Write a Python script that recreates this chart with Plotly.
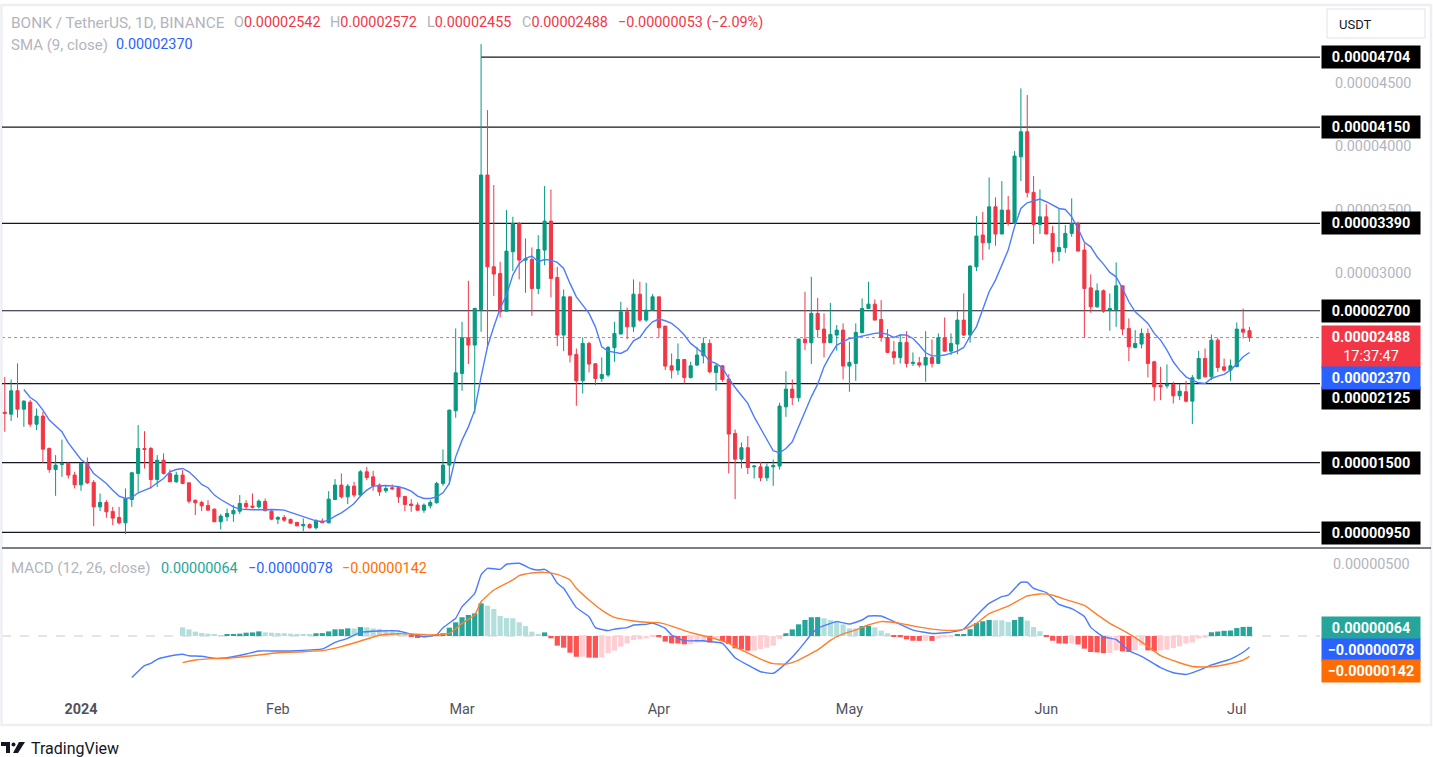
import pandas as pd
import plotly.graph_objects as go

# =========================
# Data (prices and MACD in units of 0.000001 USDT)
# =========================
START_DAY = "2023-12-20"

opens = [
    18.99, 18.83, 20.68, 19.23, 19.78, 18.04, 18.68, 16.12, 14.46, 14.86,
    14.94, 14.02, 13.25, 14.94, 13.44, 11.51, 11.86, 11.15, 10.67, 10.25,
    12.09, 14.15, 16.12, 16.12, 13.67, 15.20, 14.15, 13.49, 14.02, 13.41,
    12.04, 11.86, 11.62, 11.33, 10.33, 10.73, 10.96, 11.17, 11.78, 11.57,
    11.51, 11.94, 11.17, 10.54, 10.67, 10.51, 10.28, 10.01, 10.12, 9.86,
    10.38, 10.25, 12.09, 13.23, 12.30, 13.15, 12.44, 14.28, 13.88, 13.23,
    12.78, 13.02, 13.04, 12.33, 11.73, 11.65, 11.25, 11.59, 11.83, 13.36,
    14.81, 19.10, 22.05, 24.87, 24.29, 27.10, 37.72, 30.47, 29.95, 26.97,
    31.66, 33.90, 31.00, 31.05, 28.76, 31.79, 34.08, 29.63, 25.08, 28.10,
    23.55, 21.47, 24.42, 22.81, 21.65, 21.92, 24.08, 25.16, 26.92, 25.73,
    28.31, 26.26, 27.05, 28.10, 25.79, 22.65, 22.31, 23.15, 21.73, 22.71,
    23.44, 24.42, 22.13, 22.65, 21.60, 17.31, 15.28, 16.18, 14.67, 14.67,
    13.81, 14.67, 14.73, 19.41, 20.81, 20.13, 24.76, 24.47, 26.79, 25.55,
    24.47, 25.08, 25.47, 22.63, 22.84, 25.26, 27.18, 27.52, 26.31, 24.89,
    23.76, 23.31, 24.50, 22.84, 22.89, 22.71, 23.31, 22.84, 24.87, 23.81,
    24.37, 26.26, 25.08, 30.47, 32.98, 32.37, 35.21, 33.06, 34.95, 33.90,
    39.16, 41.14, 36.35, 33.82, 34.42, 33.11, 31.66, 31.98, 33.11, 33.90,
    31.79, 28.81, 27.31, 28.58, 27.05, 27.10, 28.97, 25.60, 24.10, 24.37,
    25.21, 22.97, 21.10, 21.07, 21.18, 20.28, 20.60, 19.86, 21.63, 23.23,
    21.78, 24.68, 22.57, 22.31, 22.60, 25.55, 25.42,
]
highs = [
    21.78, 21.57, 22.84, 19.94, 19.94, 19.28, 19.02, 16.20, 15.60, 16.83,
    15.07, 14.28, 14.99, 15.41, 13.62, 12.57, 12.04, 11.51, 11.51, 12.96,
    14.28, 17.97, 17.49, 16.25, 15.60, 15.73, 14.46, 14.28, 14.41, 13.41,
    12.09, 11.99, 12.04, 11.38, 10.94, 11.38, 11.65, 12.44, 12.04, 12.57,
    12.09, 12.17, 11.25, 10.78, 10.86, 10.59, 10.33, 10.59, 10.20, 10.54,
    10.59, 12.75, 13.70, 14.15, 13.31, 13.49, 14.41, 14.67, 14.36, 13.36,
    13.23, 13.28, 13.17, 12.38, 12.12, 11.86, 11.78, 12.04, 13.49, 16.04,
    19.20, 25.60, 26.13, 29.37, 27.24, 48.06, 42.85, 36.93, 30.87, 34.95,
    34.43, 34.00, 32.71, 32.00, 32.97, 36.85, 36.58, 30.47, 28.68, 28.10,
    24.02, 24.89, 24.55, 22.84, 23.31, 24.21, 26.13, 27.71, 27.26, 29.47,
    29.29, 29.21, 28.31, 28.10, 25.79, 23.63, 24.42, 23.15, 22.97, 24.15,
    24.89, 24.73, 22.84, 22.71, 21.99, 17.62, 16.60, 17.10, 14.81, 15.07,
    14.94, 15.25, 19.73, 22.23, 21.57, 24.81, 28.50, 29.68, 28.02, 26.79,
    27.63, 25.87, 26.00, 24.55, 26.00, 27.97, 29.29, 27.89, 27.84, 25.55,
    24.60, 25.15, 25.39, 23.71, 23.36, 25.39, 24.73, 25.21, 26.47, 25.21,
    26.97, 28.37, 30.60, 34.48, 34.82, 37.53, 35.95, 37.24, 36.08, 39.61,
    44.56, 44.04, 37.64, 36.58, 35.42, 33.69, 35.08, 33.77, 35.87, 34.03,
    32.32, 29.87, 29.16, 28.68, 28.37, 30.82, 28.97, 26.39, 25.47, 25.60,
    25.60, 23.05, 22.57, 22.76, 21.39, 21.21, 21.47, 21.92, 23.84, 24.02,
    25.13, 24.89, 23.23, 23.15, 26.08, 27.18, 25.72,
]
lows = [
    17.44, 18.28, 18.55, 17.83, 17.83, 17.57, 14.99, 14.20, 12.38, 13.88,
    13.75, 12.96, 12.78, 13.31, 9.99, 11.17, 10.65, 10.07, 10.12, 9.36,
    11.51, 12.70, 14.54, 12.96, 13.09, 14.07, 13.49, 13.41, 13.31, 11.78,
    10.86, 11.17, 11.25, 10.33, 9.72, 10.38, 10.33, 10.94, 11.25, 11.38,
    11.38, 11.17, 10.46, 10.15, 10.33, 10.20, 9.99, 9.59, 9.80, 9.72,
    10.25, 10.20, 12.04, 12.17, 11.73, 12.25, 12.30, 13.62, 12.78, 12.38,
    12.62, 12.83, 11.83, 11.17, 11.12, 11.17, 11.04, 11.38, 11.78, 13.17,
    13.28, 18.55, 20.68, 22.79, 18.89, 25.34, 24.00, 28.16, 26.47, 26.97,
    30.13, 29.47, 28.42, 26.60, 28.31, 30.60, 28.05, 24.21, 23.81, 22.92,
    19.49, 20.47, 22.13, 21.13, 21.39, 21.78, 22.97, 25.16, 24.76, 25.34,
    26.13, 26.13, 26.98, 24.89, 22.31, 21.65, 21.92, 21.26, 21.65, 22.63,
    22.84, 22.05, 20.68, 21.39, 14.15, 12.12, 14.54, 14.10, 13.75, 13.54,
    13.54, 13.17, 14.46, 18.62, 19.55, 19.81, 23.89, 22.79, 24.89, 23.31,
    24.47, 23.84, 21.57, 20.60, 21.47, 25.26, 27.18, 26.26, 24.55, 23.68,
    22.76, 22.84, 22.52, 22.63, 22.52, 21.39, 22.52, 22.84, 23.76, 23.50,
    23.57, 25.00, 24.47, 30.13, 31.00, 31.84, 32.13, 33.06, 33.71, 33.90,
    37.24, 35.95, 32.27, 33.06, 33.06, 30.74, 30.92, 31.58, 32.84, 31.71,
    24.89, 26.84, 27.23, 26.84, 25.42, 25.73, 25.08, 23.02, 24.02, 24.02,
    21.73, 19.89, 19.94, 20.86, 19.68, 19.94, 19.76, 18.05, 21.57, 21.73,
    21.52, 22.18, 22.18, 21.47, 22.52, 24.81, 24.55,
]
closes = [
    18.89, 20.68, 19.23, 19.86, 18.04, 18.68, 16.07, 14.46, 14.81, 14.94,
    14.02, 13.25, 14.94, 13.41, 11.51, 11.86, 11.12, 10.62, 10.25, 12.17,
    14.20, 16.12, 16.04, 13.67, 15.20, 14.15, 13.49, 14.02, 13.36, 11.96,
    11.83, 11.59, 11.25, 10.33, 10.78, 10.99, 11.23, 11.78, 11.51, 11.49,
    11.96, 11.20, 10.54, 10.67, 10.46, 10.22, 10.01, 10.12, 9.86, 10.41,
    10.25, 12.12, 13.23, 12.30, 13.15, 12.44, 14.28, 13.83, 13.17, 12.70,
    12.96, 12.94, 12.30, 11.70, 11.62, 11.25, 11.65, 11.86, 13.36, 14.81,
    19.15, 22.10, 24.87, 24.29, 27.18, 37.72, 30.47, 29.90, 26.92, 31.71,
    33.90, 31.00, 31.13, 28.76, 31.84, 34.08, 29.55, 25.08, 28.10, 23.50,
    21.47, 24.42, 22.79, 21.65, 21.97, 24.10, 25.21, 26.92, 25.73, 28.31,
    26.26, 27.05, 28.10, 25.66, 22.63, 22.31, 23.15, 21.73, 22.65, 23.50,
    24.42, 22.18, 22.65, 21.57, 17.26, 15.28, 16.18, 14.62, 14.73, 13.81,
    14.67, 14.78, 19.47, 20.81, 20.13, 24.76, 24.47, 26.79, 25.52, 24.47,
    25.13, 25.47, 22.63, 22.92, 25.29, 27.18, 27.52, 26.26, 24.89, 23.71,
    23.31, 24.50, 22.84, 22.92, 22.71, 23.31, 22.84, 24.87, 23.81, 24.42,
    26.26, 25.08, 30.53, 32.90, 32.37, 35.21, 33.06, 34.95, 33.90, 39.22,
    41.14, 36.35, 33.82, 34.42, 33.06, 31.66, 32.00, 33.11, 33.90, 31.71,
    28.76, 27.31, 28.58, 26.97, 27.18, 28.97, 25.55, 24.15, 24.42, 25.21,
    22.84, 20.99, 20.99, 21.18, 20.28, 20.65, 19.86, 21.71, 23.23, 21.78,
    24.68, 22.52, 22.31, 22.65, 25.55, 25.31, 24.88,
]

# SMA(9), it starts at the 4th candle
SMA_FIRST = 3
sma = [
    20.78, 20.15, 19.81, 19.15, 18.36, 17.89, 17.44, 16.57, 15.86, 15.25,
    14.88, 14.15, 13.75, 13.36, 12.83, 12.36, 12.17, 12.25, 12.62, 12.83,
    13.02, 13.41, 13.75, 14.28, 14.46, 14.54, 14.28, 13.81, 13.28, 13.02,
    12.44, 12.09, 11.83, 11.51, 11.33, 11.28, 11.28, 11.28, 11.30, 11.30,
    11.28, 11.25, 11.07, 10.91, 10.72, 10.54, 10.41, 10.33, 10.46, 10.78,
    11.04, 11.38, 11.78, 12.36, 12.83, 13.15, 13.20, 13.20, 13.17, 13.10,
    12.96, 12.75, 12.36, 12.17, 12.17, 12.30, 12.62, 13.36, 15.46, 16.78,
    17.83, 19.15, 21.78, 24.15, 25.73, 27.18, 28.24, 29.82, 30.74, 31.13,
    31.32, 30.87, 31.05, 31.00, 30.82, 30.34, 29.16, 28.10, 27.45, 26.79,
    25.73, 24.15, 23.81, 23.71, 23.63, 23.89, 24.63, 24.89, 25.60, 26.13,
    26.34, 26.21, 26.00, 25.60, 25.08, 24.42, 24.02, 23.63, 23.02, 22.84,
    22.49, 21.65, 20.94, 20.34, 19.68, 18.62, 17.70, 16.78, 15.94, 15.78,
    16.12, 16.65, 17.83, 19.02, 20.20, 21.20, 22.57, 23.50, 24.29, 24.55,
    24.81, 24.89, 25.00, 25.13, 25.21, 25.26, 25.13, 24.89, 25.08, 25.08,
    24.81, 24.29, 23.68, 23.44, 23.44, 23.50, 23.63, 23.81, 24.10, 25.00,
    25.73, 27.05, 28.50, 29.42, 30.61, 31.79, 33.63, 35.08, 35.53, 35.69,
    35.82, 35.61, 35.35, 35.08, 35.00, 34.42, 33.50, 32.40, 32.05, 31.26,
    30.68, 30.03, 29.68, 28.76, 27.71, 26.92, 26.47, 26.00, 25.21, 24.68,
    23.89, 22.97, 22.31, 21.78, 21.52, 21.31, 21.26, 21.65, 21.84, 21.97,
    22.31, 22.79, 23.37, 23.70,
]

# MACD histogram, starts at candle 28
HIST_FIRST = 28
hist = [
    0.60, 0.46, 0.30, 0.21, 0.16, 0.07, 0.06, 0.12, 0.13, 0.16,
    0.23, 0.25, 0.32, 0.25, 0.23, 0.21, 0.19, 0.16, 0.14, 0.09,
    0.08, 0.19, 0.20, 0.32, 0.46, 0.47, 0.53, 0.52, 0.62, 0.60,
    0.53, 0.49, 0.42, 0.35, 0.25, 0.12, -0.05, -0.14, -0.12, -0.05,
    0.05, 0.19, 0.58, 0.95, 1.30, 1.46, 1.57, 2.27, 2.11, 1.88,
    1.39, 1.25, 1.23, 0.95, 0.69, 0.30, 0.14, 0.25, -0.16, -0.67,
    -0.81, -1.16, -1.44, -1.43, -1.50, -1.51, -1.50, -1.20, -1.02, -0.74,
    -0.51, -0.28, -0.23, -0.16, -0.05, -0.09, -0.39, -0.51, -0.52, -0.58,
    -0.57, -0.46, -0.44, -0.45, -0.16, -0.35, -0.56, -0.86, -0.90, -1.02,
    -1.01, -0.90, -0.81, -0.67, -0.21, 0.19, 0.46, 0.81, 1.11, 1.30,
    1.31, 1.23, 1.11, 1.06, 0.81, 0.53, 0.52, 0.69, 0.70, 0.60,
    0.37, 0.19, -0.07, -0.09, -0.23, -0.33, -0.34, -0.33, -0.34, -0.17,
    -0.09, -0.05, 0.12, 0.13, 0.47, 0.90, 1.02, 1.11, 1.10, 1.09,
    0.97, 1.11, 1.33, 1.07, 0.62, 0.33, -0.02, -0.33, -0.52, -0.53,
    -0.52, -0.59, -0.88, -1.11, -1.14, -1.19, -1.18, -1.00, -1.07, -1.11,
    -1.00, -0.64, -1.00, -1.05, -1.00, -0.95, -0.83, -0.71, -0.52, -0.45,
    -0.17, -0.12, 0.26, 0.31, 0.36, 0.38, 0.55, 0.63, 0.64,
]

# MACD and signal lines, read at these candle numbers
macd_idx = [
    20, 22, 23, 24, 26, 28, 29, 31, 33, 35, 38, 40, 43, 46, 50, 52, 54, 56, 59, 62,
    64, 66, 68, 69, 71, 72, 74, 75, 76, 78, 79, 81, 83, 84, 85, 86, 87, 88, 90, 92,
    93, 95, 96, 98, 99, 101, 102, 104, 105, 107, 110, 111, 113, 115, 117, 119, 121, 123, 125, 127,
    128, 131, 133, 135, 136, 138, 140, 143, 146, 149, 151, 153, 155, 157, 158, 160, 161, 162, 164, 166,
    168, 170, 171, 173, 175, 177, 179, 182, 184, 186, 188, 190, 193, 195, 196,
]
macd_vals = [
    -2.89, -2.06, -1.90, -1.62, -1.39, -1.27, -1.37, -1.41, -1.55, -1.51, -1.25, -1.04, -1.04, -1.02, -0.90, -0.44, -0.16, 0.25, 0.35, 0.35,
    0.12, -0.05, 0.07, 0.58, 1.23, 2.04, 2.96, 4.24, 4.70, 4.63, 4.98, 5.05, 4.65, 4.58, 4.63, 4.35, 3.66, 3.31, 1.97, 1.34,
    0.58, 0.37, 0.48, 0.58, 0.76, 0.81, 0.90, 0.53, 0.07, -0.33, -0.33, -0.39, -0.51, -1.51, -2.02, -2.48, -2.59, -1.90, -0.97, 0.12,
    0.53, 1.00, 0.83, 1.11, 1.39, 1.39, 1.00, 0.41, 0.17, 0.27, 0.48, 1.41, 2.26, 2.73, 2.83, 3.73, 3.73, 3.30, 3.02, 2.19,
    1.90, 1.36, 0.60, -0.06, -0.25, -1.01, -1.41, -2.20, -2.55, -2.67, -2.39, -2.01, -1.60, -1.13, -0.78,
]
signal_idx = [
    28, 30, 33, 35, 39, 43, 47, 50, 53, 56, 59, 62, 64, 67, 70, 72, 74, 75, 77, 80,
    81, 83, 85, 87, 89, 90, 92, 94, 96, 99, 101, 103, 105, 107, 109, 111, 114, 116, 119, 121,
    123, 125, 128, 130, 132, 134, 136, 138, 141, 143, 146, 149, 151, 153, 155, 158, 161, 163, 165, 167,
    170, 172, 174, 176, 178, 180, 182, 185, 187, 189, 191, 193, 195, 196,
]
signal_vals = [
    -1.85, -1.67, -1.57, -1.55, -1.37, -1.16, -1.09, -1.02, -0.74, -0.35, 0.05, 0.16, 0.14, 0.07, 0.18, 0.88, 1.46, 2.38, 3.19, 3.89,
    4.19, 4.37, 4.42, 4.28, 3.89, 3.31, 2.50, 1.80, 1.29, 1.04, 0.95, 0.93, 0.69, 0.37, 0.12, -0.09, -0.51, -0.97, -1.60, -1.92,
    -1.95, -1.67, -0.97, -0.30, 0.14, 0.42, 0.76, 1.00, 0.88, 0.70, 0.48, 0.39, 0.46, 0.88, 1.55, 2.07, 2.78, 2.92, 2.83, 2.54,
    2.12, 1.48, 0.88, 0.41, -0.11, -0.73, -1.37, -1.86, -2.12, -2.15, -2.08, -1.91, -1.67, -1.42,
]

levels = [47.04, 41.50, 33.90, 27.00, 21.25, 15.00, 9.50]
level_labels = ["0.00004704", "0.00004150", "0.00003390", "0.00002700", "0.00002125", "0.00001500", "0.00000950"]
price_ticks = [30, 35, 40, 45]
price_tick_labels = ["0.00003000", "0.00003500", "0.00004000", "0.00004500"]
month_ticks = ["2024-01-01", "2024-02-01", "2024-03-01", "2024-04-01", "2024-05-01", "2024-06-01", "2024-07-01"]
month_labels = ["<b>2024</b>", "Feb", "Mar", "Apr", "May", "Jun", "Jul"]

UP = "#089981"
DOWN = "#F23645"
BLUE = "#2962FF"
ORANGE = "#FF6D00"
GREY = "#B2B5BE"
FONT = "Roboto"

W, H = 1433, 757


def fx(px):
    return px / W


def fy(py):
    return 1 - py / H


dates = pd.date_range(START_DAY, periods=len(closes), freq="D")


def hist_colors(values):
    # TradingView rule: dark when growing away from zero, light when shrinking
    out = []
    prev = None
    for v in values:
        if v >= 0:
            out.append("#26A69A" if prev is not None and v > prev else "#B2DFDB")
        else:
            out.append("#FF5252" if prev is not None and v < prev else "#FFCDD2")
        prev = v
    return out


fig = go.Figure()

fig.add_trace(go.Candlestick(
    x=dates, open=opens, high=highs, low=lows, close=closes,
    increasing=dict(line=dict(color=UP, width=1), fillcolor=UP),
    decreasing=dict(line=dict(color=DOWN, width=1), fillcolor=DOWN),
    xaxis="x", yaxis="y", whiskerwidth=0,
))
fig.add_trace(go.Scatter(
    x=dates[SMA_FIRST:], y=sma, mode="lines",
    line=dict(color="#4C7DFF", width=1.4), xaxis="x", yaxis="y",
))
fig.add_trace(go.Bar(
    x=dates[HIST_FIRST:HIST_FIRST + len(hist)], y=hist,
    marker=dict(color=hist_colors(hist), line=dict(width=0)),
    xaxis="x", yaxis="y2",
))
fig.add_trace(go.Scatter(
    x=dates[macd_idx], y=macd_vals, mode="lines",
    line=dict(color="#4C7DFF", width=1.4, shape="spline", smoothing=0.4), xaxis="x", yaxis="y2",
))
fig.add_trace(go.Scatter(
    x=dates[signal_idx], y=signal_vals, mode="lines",
    line=dict(color="#FF7F2A", width=1.4, shape="spline", smoothing=0.4), xaxis="x", yaxis="y2",
))

# horizontal levels, the top one starts at the March spike
shapes = []
for i, lv in enumerate(levels):
    x0 = dates[75] if i == 0 else dates[0] - pd.Timedelta(days=1)
    shapes.append(dict(type="line", xref="x", yref="y", x0=x0, x1=dates[-1] + pd.Timedelta(days=12), y0=lv, y1=lv,
                       line=dict(color="#131722", width=1.2), layer="below"))

# last price and MACD zero line
shapes.append(dict(type="line", xref="x domain", yref="y", x0=0, x1=1, y0=closes[-1], y1=closes[-1],
                   line=dict(color="rgba(242,54,69,0.75)", width=1, dash="dot"), layer="below"))
shapes.append(dict(type="line", xref="x domain", yref="y2", x0=0, x1=1, y0=0, y1=0,
                   line=dict(color="#C8CAD1", width=1, dash="dash"), layer="below"))

# frame and pane separator
shapes.append(dict(type="rect", xref="paper", yref="paper", x0=fx(1.5), x1=fx(1431), y0=fy(725), y1=fy(5),
                   line=dict(color="#EEEFF3", width=2.5), layer="below"))
shapes.append(dict(type="line", xref="paper", yref="paper", x0=fx(2), x1=fx(1431), y0=fy(548), y1=fy(548),
                   line=dict(color="#50535C", width=1.5)))

# USDT button
shapes.append(dict(type="rect", xref="paper", yref="paper", x0=fx(1327), x1=fx(1425), y0=fy(38), y1=fy(9),
                   line=dict(color="#E0E3EB", width=1), fillcolor="white"))

# logo mark
logo = "M {} {} L {} {} L {} {} L {} {} L {} {} L {} {} Z".format(
    fx(1), fy(742), fx(10), fy(742), fx(10), fy(753), fx(6), fy(753), fx(6), fy(746), fx(1), fy(746))
logo2 = "M {} {} L {} {} L {} {} L {} {} Z".format(
    fx(19), fy(742), fx(25), fy(742), fx(18), fy(753), fx(13), fy(753))
shapes.append(dict(type="path", xref="paper", yref="paper", path=logo, fillcolor="#131722", line=dict(width=0)))
shapes.append(dict(type="path", xref="paper", yref="paper", path=logo2, fillcolor="#131722", line=dict(width=0)))
shapes.append(dict(type="circle", xref="paper", yref="paper", x0=fx(11.5), x1=fx(15.5), y0=fy(746.5), y1=fy(742.5),
                   fillcolor="#131722", line=dict(width=0)))

annotations = []


def text_at(px, py, text, color, size=14.4):
    # annotations keep about 2px of padding on the left
    annotations.append(dict(xref="paper", yref="paper", x=fx(px - 2), y=fy(py), text=text, showarrow=False,
                            xanchor="left", yanchor="middle", font=dict(family=FONT, size=size, color=color)))


def tag(py, text, bg, height=20):
    annotations.append(dict(xref="paper", yref="paper", x=fx(1371), y=fy(py), text=text, showarrow=False,
                            xanchor="center", yanchor="middle", width=96, height=height, bgcolor=bg,
                            font=dict(family=FONT, size=14.4, color="white")))


text_at(11, 23, "BONK / TetherUS, 1D, BINANCE", GREY, 15.4)
for px, head, val in [(234, "O", "0.00002542"), (330, "H", "0.00002572"), (427, "L", "0.00002455"), (522, "C", "0.00002488")]:
    text_at(px, 23, '<span style="color:{}">{}</span>{}'.format(GREY, head, val), DOWN)
text_at(618, 23, "−0.00000053 (−2.09%)", DOWN)
text_at(11, 45, "SMA (9, close)", GREY, 15)
text_at(116, 45, "0.00002370", BLUE)
text_at(11, 568, "MACD (12, 26, close)", GREY, 15)
text_at(161, 568, "0.00000064", "#26A69A")
text_at(248, 568, "−0.00000078", BLUE)
text_at(342, 568, "−0.00000142", ORANGE)
text_at(1339, 24, "USDT", "#131722", 13)
text_at(31, 748, "TradingView", "#131722", 16)
text_at(1333, 564, "0.00000500", GREY)

# price tags on the right scale
level_tag_y = [57, 127, 223, 311, 398, 463, 533]
for py, label in zip(level_tag_y, level_labels):
    tag(py, "<b>{}</b>".format(label), "#000000")
tag(347, "<b>0.00002488</b><br>17:37:47", DOWN, height=40)
tag(377.5, "<b>0.00002370</b>", BLUE)
tag(628, "<b>0.00000064</b>", "#26A69A")
tag(650, "<b>−0.00000078</b>", BLUE)
tag(671, "<b>−0.00000142</b>", ORANGE)

# plot box in window pixels: x 2..1320, price pane y 5..547, MACD pane y 549..690
x_left = dates[0] + pd.Timedelta(days=-0.44)
x_right = dates[0] + pd.Timedelta(days=207.1)

fig.update_layout(
    width=W, height=H,
    margin=dict(l=0, r=0, t=0, b=0),
    paper_bgcolor="white", plot_bgcolor="white",
    showlegend=False, barmode="overlay", bargap=0.18,
    font=dict(family=FONT, size=14),
    xaxis=dict(
        domain=[fx(2), fx(1320)], range=[x_left, x_right], anchor="y2",
        rangeslider=dict(visible=False), showgrid=False, zeroline=False, showline=False,
        tickmode="array", tickvals=month_ticks, ticktext=month_labels,
        ticks="outside", ticklen=6, tickcolor="rgba(0,0,0,0)",
        tickfont=dict(family=FONT, size=14.4, color="#50535E"),
    ),
    yaxis=dict(
        domain=[fy(547), fy(5)], range=[8.34, 51.15], side="right", anchor="x",
        showgrid=False, zeroline=False, showline=False,
        tickmode="array", tickvals=price_ticks, ticktext=price_tick_labels,
        ticks="outside", ticklen=11, tickcolor="rgba(0,0,0,0)",
        tickfont=dict(family=FONT, size=14.4, color=GREY),
    ),
    yaxis2=dict(
        domain=[fy(690), fy(549)], range=[-3.75, 6.04], side="right", anchor="x",
        showgrid=False, zeroline=False, showline=False, showticklabels=False,
    ),
    shapes=shapes,
    annotations=annotations,
)

fig.write_html("out.html", config={"displayModeBar": False},
               post_script="document.body.style.margin='0';document.body.style.overflow='hidden';")
